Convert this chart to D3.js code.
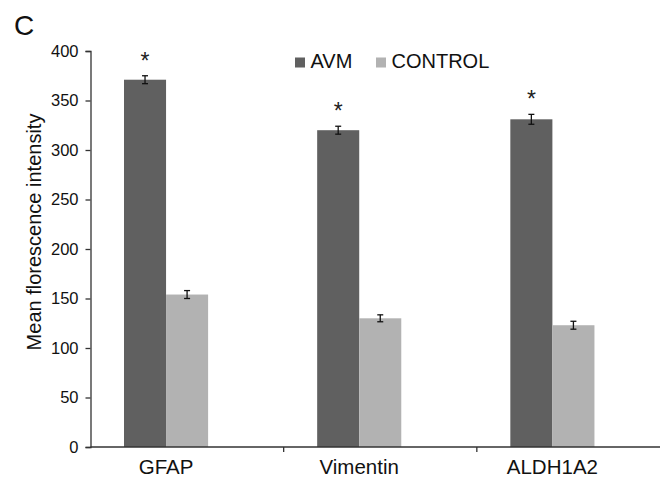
<!DOCTYPE html>
<html>
<head>
<meta charset="utf-8">
<script src="https://cdn.jsdelivr.net/npm/d3@7"></script>
<style>
  body { margin: 0; background: #fff; }
  svg { display: block; font-family: "Liberation Sans", Arial, sans-serif; }
</style>
</head>
<body>
<svg id="chart" width="660" height="479"></svg>
<script>
// data
const categories = ['GFAP', 'Vimentin', 'ALDH1A2'];
const seriesNames = ['AVM', 'CONTROL'];
const avmValues = [371, 320, 331];
const avmErrors = [4, 4, 5];
const controlValues = [154, 130, 123];
const controlErrors = [4, 3.5, 4];
const significant = [true, true, true];
const yTicks = [0, 50, 100, 150, 200, 250, 300, 350, 400];

const colors = { AVM: '#606060', CONTROL: '#b2b2b2' };

const svg = d3.select('#chart');

const plot = { left: 90.5, right: 670, top: 51, bottom: 447 };

const x = d3.scaleBand()
  .domain(categories)
  .range([plot.left, plot.right])
  .padding(0);

// excel layout: a third, empty slot in each group pushes the pair left
const xSub = d3.scaleBand()
  .domain(seriesNames.concat(['']))
  .range([33.5, x.bandwidth() - 33.5]);

const y = d3.scaleLinear()
  .domain([0, 400])
  .range([plot.bottom, plot.top]);

const rows = categories.map((c, i) => [
  { cat: c, series: 'AVM', value: avmValues[i], err: avmErrors[i], star: significant[i] },
  { cat: c, series: 'CONTROL', value: controlValues[i], err: controlErrors[i], star: false }
]).flat();

// ==========================================
// BARS
// ==========================================
svg.append('g')
  .selectAll('rect')
  .data(rows)
  .enter()
  .append('rect')
  .attr('x', d => x(d.cat) + xSub(d.series))
  .attr('y', d => y(d.value))
  .attr('width', xSub.bandwidth())
  .attr('height', d => y(0) - y(d.value))
  .attr('fill', d => colors[d.series]);

// error bars
const eb = svg.append('g')
  .attr('stroke', '#111')
  .attr('stroke-width', 1.3);

rows.forEach(d => {
  const cx = x(d.cat) + xSub(d.series) + xSub.bandwidth() / 2;
  const y1 = y(d.value + d.err);
  const y2 = y(d.value - d.err);
  eb.append('line').attr('x1', cx).attr('x2', cx).attr('y1', y1).attr('y2', y2);
  eb.append('line').attr('x1', cx - 3).attr('x2', cx + 3).attr('y1', y1).attr('y2', y1);
  eb.append('line').attr('x1', cx - 3).attr('x2', cx + 3).attr('y1', y2).attr('y2', y2);
});

// significance stars
svg.append('g')
  .selectAll('text')
  .data(rows.filter(d => d.star))
  .enter()
  .append('text')
  .attr('x', d => x(d.cat) + xSub(d.series) + xSub.bandwidth() / 2)
  .attr('y', d => y(d.value + d.err) - 7)
  .attr('text-anchor', 'middle')
  .attr('font-size', 23)
  .attr('fill', '#222')
  .text('*');

// ==========================================
// AXES
// ==========================================
const axisColor = '#333';

const yAxis = svg.append('g')
  .attr('transform', `translate(${plot.left},0)`)
  .call(d3.axisLeft(y).tickValues(yTicks).tickSize(5).tickPadding(7));
yAxis.select('.domain').attr('stroke', axisColor).attr('stroke-width', 1.3);
yAxis.selectAll('.tick line').attr('stroke', axisColor).attr('stroke-width', 1.3);
yAxis.selectAll('.tick text')
  .attr('font-size', 16.5)
  .attr('fill', '#111')
  .attr('font-family', '"Liberation Sans", Arial, sans-serif');

// x axis: ticks sit on the category boundaries
const xAxis = svg.append('g');
xAxis.append('line')
  .attr('x1', plot.left).attr('x2', plot.right)
  .attr('y1', plot.bottom).attr('y2', plot.bottom)
  .attr('stroke', axisColor).attr('stroke-width', 1.3);
xAxis.selectAll('.xtick')
  .data(categories.slice(1))
  .enter()
  .append('line')
  .attr('class', 'xtick')
  .attr('x1', d => x(d)).attr('x2', d => x(d))
  .attr('y1', plot.bottom).attr('y2', plot.bottom + 5)
  .attr('stroke', axisColor).attr('stroke-width', 1.3);
xAxis.selectAll('.xlabel')
  .data(categories)
  .enter()
  .append('text')
  .attr('class', 'xlabel')
  .attr('x', d => x(d) + xSub('AVM') + xSub.bandwidth())
  .attr('y', plot.bottom + 27)
  .attr('text-anchor', 'middle')
  .attr('font-size', 20.5)
  .attr('fill', '#111')
  .text(d => d);

// y label
svg.append('text')
  .attr('transform', 'translate(41,232) rotate(-90)')
  .attr('text-anchor', 'middle')
  .attr('font-size', 20)
  .attr('fill', '#111')
  .text('Mean florescence intensity');

// panel letter
svg.append('text')
  .attr('x', 14)
  .attr('y', 35)
  .attr('font-size', 28)
  .attr('fill', '#111')
  .text('C');

// ==========================================
// LEGEND
// ==========================================
const legendX = [295, 376];
const legend = svg.append('g')
  .selectAll('g')
  .data(seriesNames)
  .enter()
  .append('g')
  .attr('transform', (d, i) => `translate(${legendX[i]},57.5)`);
legend.append('rect')
  .attr('width', 10).attr('height', 10)
  .attr('fill', d => colors[d]);
legend.append('text')
  .attr('x', 15.5)
  .attr('y', 10.5)
  .attr('font-size', 20)
  .attr('fill', '#111')
  .text(d => d);
</script>
</body>
</html>
